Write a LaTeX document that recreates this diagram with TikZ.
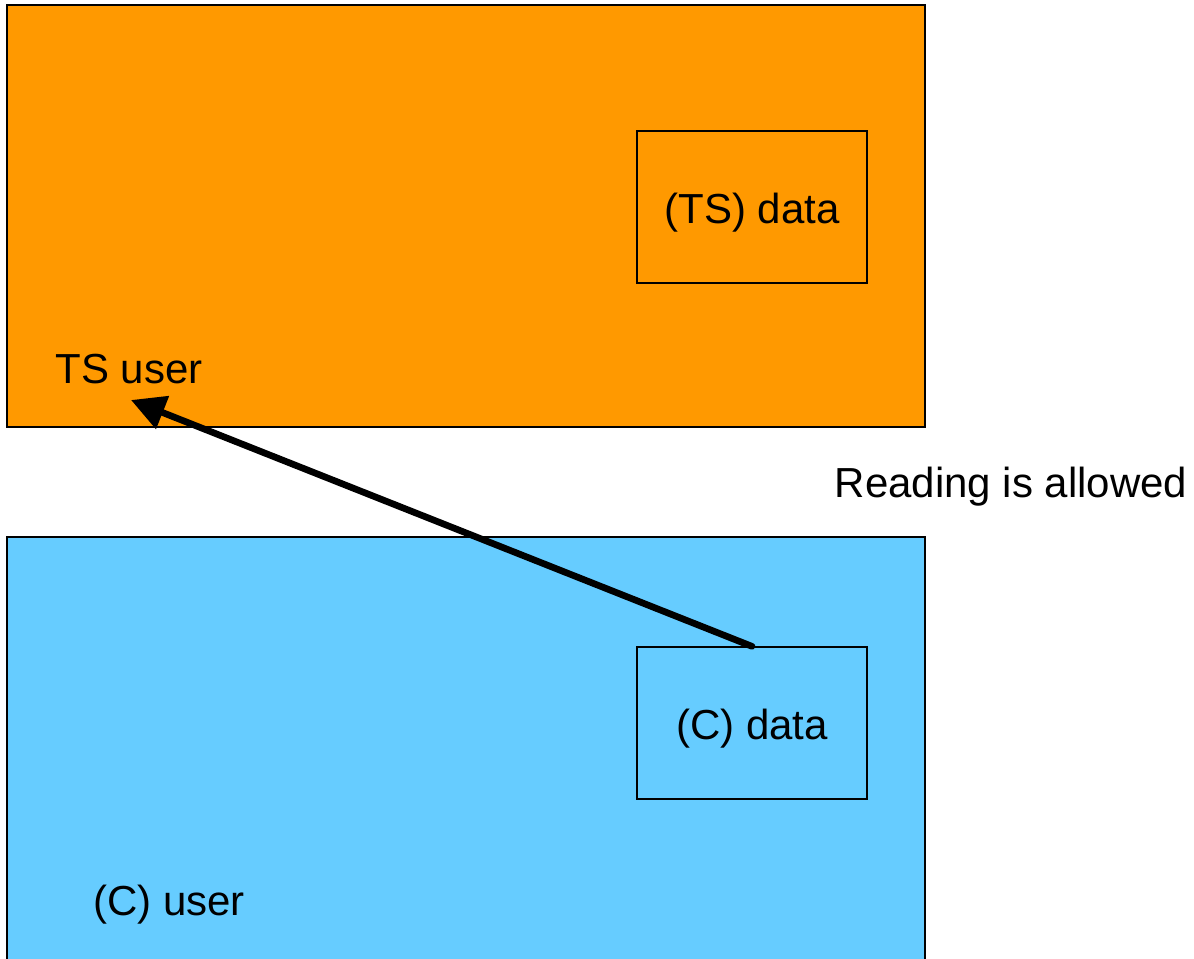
\documentclass[tikz,border=0pt]{standalone}
\usepackage{fontspec}
\setmainfont{Liberation Sans}
\usetikzlibrary{arrows.meta}
\definecolor{tsorange}{HTML}{FF9900}
\definecolor{cblue}{HTML}{66CCFF}
\begin{document}
\begin{tikzpicture}[x=0.75pt,y=-0.75pt,
  lbl/.style={font=\fontsize{31.5}{36}\selectfont, inner sep=0pt},
  area/.style={draw=black, line width=1.1pt},
  databox/.style={draw=black, line width=1pt, minimum width=172.5pt, minimum height=114pt, inner sep=0pt},
  flow/.style={line width=5pt, line cap=round, -{Triangle[length=25.5pt,width=25.5pt]}}]
\useasboundingbox (0,0) rectangle (1194,958);
\begin{scope}
\clip (0,0) rectangle (1194,958);
\filldraw[area, fill=tsorange] (7,5) rectangle (925,427);
\filldraw[area, fill=cblue] (7,537) rectangle (925,1000);
\end{scope}
\node[databox] (tsdata) at (752,207) {};
\node[lbl] (tsdatatext) at (752,213) {(TS) data};
\node[databox] (cdata) at (752,723) {};
\node[lbl] (cdatatext) at (752,729) {(C) data};
\node[lbl] (tsuser) at (129,369) {TS user};
\node[lbl] (cuser) at (169,905) {(C) user};
\node[lbl] (reading) at (1011,487) {Reading is allowed};
\coordinate (tip) at (131,400);
\draw[flow] (cdata.north) -- (tip);
\end{tikzpicture}
\end{document}
